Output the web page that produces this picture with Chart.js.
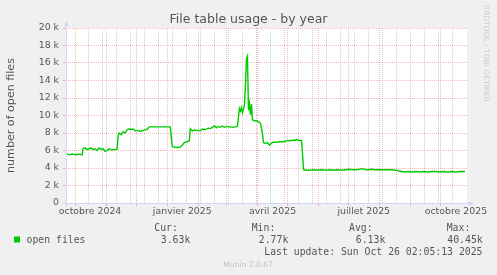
<!DOCTYPE html>
<html>
<head>
<meta charset="utf-8">
<script src="https://cdn.jsdelivr.net/npm/chart.js@4.4.1/dist/chart.umd.min.js"></script>
<style>
html,body{margin:0;padding:0;background:#f0f0f0;overflow:hidden}
canvas{display:block}
</style>
</head>
<body>
<canvas id="c" width="497" height="275"></canvas>
<script>
// ---- text ----
const chartTitle = 'File table usage - by year';
const yAxisTitle = 'number of open files';
const seriesName = 'open files';
const statLabels = ['Cur:', 'Min:', 'Avg:', 'Max:'];
const statValues = ['3.63k', '2.77k', '6.13k', '40.45k'];
const lastUpdate = 'Last update: Sun Oct 26 02:05:13 2025';
const footerText = 'Munin 2.0.67';
const sideText = 'RRDTOOL / TOBI OETIKER';

// ---- data: x = days since 2024-10-01, y = number of open files ----
const days = [
  -9, -7, -5, -3, -1, 1, 3, 5, 7,
  8, 10, 12, 14, 16, 18, 20, 22, 24, 26, 28, 30, 32, 34, 36, 38, 40, 42,
  43, 44, 46, 48, 50, 52, 54, 56, 58, 60, 62, 64, 66, 68, 70, 72,
  74, 79, 84, 89, 95,
  97, 99, 102, 105, 107, 109, 112, 114,
  115, 117, 119, 121, 123, 125, 127, 129, 131, 133, 135, 137, 139, 141, 143, 145, 147, 149, 151, 153, 155, 157, 160, 162,
  164, 165, 166, 167, 168, 169, 170, 171, 172, 173, 174, 175, 176, 177, 179, 181, 183, 185, 187,
  188, 190, 192, 194, 196, 198, 200, 204, 207, 210, 212, 215, 217, 219, 221, 223, 226,
  228, 230, 234, 238, 242, 246, 250, 254, 258, 262, 266, 270, 274, 277, 280, 284, 286, 288, 292, 296, 300, 304, 308, 312, 316, 320,
  323, 326, 329, 332, 336, 340, 344, 348, 352, 356, 360, 364, 368, 372, 376, 380, 384, 389
];
const openFiles = [
  5650, 5550, 5500, 5600, 5550, 5500, 5600, 5550, 5500,
  6200, 6300, 6100, 6200, 6300, 6100, 6200, 6000, 6300, 6150, 6200, 5900, 6000, 6200, 6050, 6100, 6100, 6150,
  7700, 8000, 7800, 8150, 8000, 8400, 8450, 8400, 8450, 8250, 8300, 8250, 8200, 8300, 8350, 8450,
  8700, 8700, 8700, 8700, 8700,
  6450, 6400, 6350, 6400, 6600, 6900, 7000, 7100,
  8500, 8250, 8350, 8300, 8300, 8250, 8450, 8400, 8450, 8550, 8500, 8650, 8800, 8600, 8750, 8650, 8800, 8650, 8750, 8700, 8700, 8650, 8700, 8750,
  10800, 10500, 10900, 10300, 10700, 11200, 13500, 16500, 16800, 10600, 11400, 10100, 11300, 9500, 9400, 9400, 9300, 9100, 7900,
  6900, 6800, 6900, 6600, 6850, 6950, 6950, 7000, 7000, 7050, 7150, 7100, 7200, 7150, 7250, 7150, 7150,
  3800, 3750, 3750, 3800, 3750, 3800, 3750, 3800, 3750, 3800, 3750, 3800, 3850, 3800, 3800, 3850, 3950, 3850, 3800, 3850, 3800, 3800, 3800, 3800, 3800, 3750,
  3650, 3600, 3550, 3600, 3550, 3600, 3550, 3600, 3550, 3600, 3600, 3550, 3600, 3550, 3600, 3550, 3600, 3600
];

// ---- ticks / grid ----
const yTickValues = [0, 2000, 4000, 6000, 8000, 10000, 12000, 14000, 16000, 18000, 20000];
const yTickLabels = ['0', '2 k', '4 k', '6 k', '8 k', '10 k', '12 k', '14 k', '16 k', '18 k', '20 k'];
const yMinorValues = [1000, 3000, 5000, 7000, 9000, 11000, 13000, 15000, 17000, 19000];
const xLabelDays = [15, 107, 197, 288, 380];
const xTickLabels = ['octobre 2024', 'janvier 2025', 'avril 2025', 'juillet 2025', 'octobre 2025'];
const monthStartDays = [0, 31, 61, 92, 123, 151, 182, 212, 243, 273, 304, 335, 365];
const minorGridDays = [13, 27, 41, 55, 69, 83, 97, 111, 125, 139, 153, 167, 181, 195, 209, 223, 237, 251, 265, 279, 293, 307, 321, 349, 363, 377];

const RED = 'rgba(245,120,120,0.55)';
const GRAY = 'rgba(160,160,160,0.5)';
const AXIS = '#CFD6F8';
const FONT_COL = '#555555';

const xAllTicks = Array.from(new Set([...monthStartDays, ...minorGridDays, ...xLabelDays])).sort((a, b) => a - b);
const yAllTicks = [...yTickValues, ...yMinorValues].sort((a, b) => a - b);

function xGridColor(ctx) {
  const v = ctx.tick ? ctx.tick.value : null;
  if (monthStartDays.includes(v)) return RED;
  if (minorGridDays.includes(v)) return GRAY;
  return 'rgba(0,0,0,0)';
}
function yGridColor(ctx) {
  const v = ctx.tick ? ctx.tick.value : null;
  if (yTickValues.includes(v)) return RED;
  return GRAY;
}

const decor = {
  id: 'decor',
  beforeDraw(chart) {
    const { ctx, chartArea: a } = chart;
    ctx.save();
    ctx.fillStyle = '#f0f0f0';
    ctx.fillRect(0, 0, chart.width, chart.height);
    ctx.fillStyle = '#ffffff';
    ctx.fillRect(a.left, a.top, a.right - a.left, a.bottom - a.top);
    ctx.restore();
  },
  afterDraw(chart) {
    const { ctx, chartArea: a } = chart;
    ctx.save();
    // axes
    const ax = Math.round(a.left) + 0.5;
    const ay = Math.round(a.bottom) + 0.5;
    ctx.strokeStyle = AXIS;
    ctx.fillStyle = AXIS;
    ctx.lineWidth = 1;
    ctx.beginPath();
    ctx.moveTo(ax, a.top - 2);
    ctx.lineTo(ax, ay + 3);
    ctx.moveTo(ax - 3, ay);
    ctx.lineTo(a.right + 2, ay);
    ctx.stroke();
    ctx.beginPath();
    ctx.moveTo(ax - 2.5, a.top - 1.5);
    ctx.lineTo(ax + 2.5, a.top - 1.5);
    ctx.lineTo(ax, a.top - 7);
    ctx.closePath();
    ctx.fill();
    ctx.beginPath();
    ctx.moveTo(a.right + 1.5, ay - 2.5);
    ctx.lineTo(a.right + 1.5, ay + 2.5);
    ctx.lineTo(a.right + 7, ay);
    ctx.closePath();
    ctx.fill();

    // title
    ctx.fillStyle = FONT_COL;
    ctx.textBaseline = 'alphabetic';
    ctx.font = '12.5px "DejaVu Sans"';
    ctx.textAlign = 'center';
    ctx.fillText(chartTitle, 248.5, 22.5);

    // y title
    ctx.save();
    ctx.translate(14, 115.5);
    ctx.rotate(-Math.PI / 2);
    ctx.font = '11.1px "DejaVu Sans"';
    ctx.textAlign = 'center';
    ctx.fillText(yAxisTitle, 0, 0);
    ctx.restore();

    // legend
    ctx.fillStyle = '#00cc00';
    ctx.fillRect(14, 236.5, 6, 6);
    ctx.fillStyle = FONT_COL;
    ctx.font = '9.8px "DejaVu Sans Mono"';
    ctx.textAlign = 'left';
    ctx.fillText(seriesName, 26.5, 242.5);
    const labelX = [154.3, 251.7, 349, 446.7];
    const valueRight = [190.3, 288.3, 385.3, 482.7];
    statLabels.forEach((s, i) => ctx.fillText(s, labelX[i], 231));
    ctx.textAlign = 'right';
    statValues.forEach((s, i) => ctx.fillText(s, valueRight[i], 242.5));
    ctx.fillText(lastUpdate, 482.5, 255);

    // footer / watermark
    ctx.fillStyle = '#c4c4c4';
    ctx.font = '7.6px "DejaVu Sans"';
    ctx.textAlign = 'center';
    ctx.fillText(footerText, 248, 267);
    ctx.save();
    ctx.translate(484, 5);
    ctx.rotate(Math.PI / 2);
    ctx.textAlign = 'left';
    ctx.fillStyle = '#cccccc';
    ctx.font = '7.5px "DejaVu Sans"';
    ctx.fillText(sideText, 0, 0);
    ctx.restore();

    ctx.restore();
  }
};

new Chart(document.getElementById('c'), {
  type: 'line',
  data: {
    datasets: [{
      label: seriesName,
      data: days.map((d, i) => ({ x: d, y: openFiles[i] })),
      borderColor: '#00cc00',
      borderWidth: 1.4,
      pointRadius: 0,
      tension: 0,
      fill: false
    }]
  },
  options: {
    responsive: false,
    animation: false,
    devicePixelRatio: 1,
    layout: { padding: { left: 0, top: 28, right: 30, bottom: 0 } },
    plugins: { legend: { display: false }, tooltip: { enabled: false }, title: { display: false } },
    scales: {
      x: {
        type: 'linear',
        min: -9,
        max: 391,
        afterBuildTicks(scale) { scale.ticks = xAllTicks.map(v => ({ value: v })); },
        afterFit(scale) { scale.height = 72; },
        ticks: {
          autoSkip: false, maxRotation: 0, minRotation: 0, padding: 0,
          color: FONT_COL, font: { family: 'DejaVu Sans', size: 9.4 },
          callback(v) { const i = xLabelDays.indexOf(v); return i >= 0 ? xTickLabels[i] : ''; }
        },
        grid: {
          color: xGridColor, lineWidth: 1, drawTicks: true, tickLength: 3,
          tickColor: ctx => (monthStartDays.includes(ctx.tick && ctx.tick.value) ? RED : 'rgba(0,0,0,0)')
        },
        border: { display: false, dash: [1, 1] }
      },
      y: {
        type: 'linear',
        min: 0,
        max: 20000,
        afterBuildTicks(scale) { scale.ticks = yAllTicks.map(v => ({ value: v })); },
        afterFit(scale) { scale.width = 66; },
        ticks: {
          padding: 4, color: FONT_COL, font: { family: 'DejaVu Sans', size: 9.4 },
          callback(v) { const i = yTickValues.indexOf(v); return i >= 0 ? yTickLabels[i] : ''; }
        },
        grid: {
          color: yGridColor, lineWidth: 1, drawTicks: true, tickLength: 3,
          tickColor: ctx => (yTickValues.includes(ctx.tick && ctx.tick.value) ? RED : 'rgba(0,0,0,0)')
        },
        border: { display: false, dash: [1, 1] }
      }
    }
  },
  plugins: [decor]
});
</script>
</body>
</html>
